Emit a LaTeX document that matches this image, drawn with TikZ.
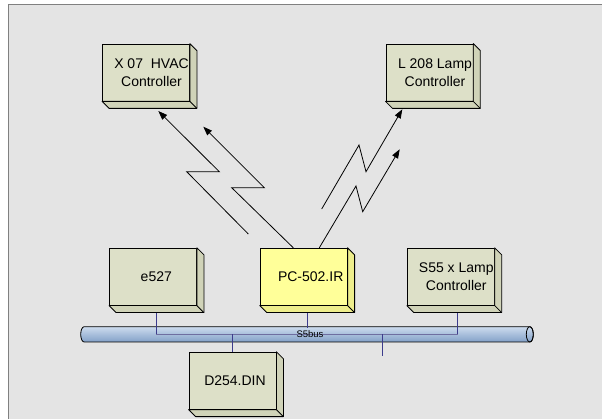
\documentclass[tikz,border=0pt]{standalone}
\usepackage{fontspec}
\setmainfont{Liberation Sans}
\usetikzlibrary{arrows.meta,calc}
\definecolor{bg}{RGB}{228,228,228}
\definecolor{framegray}{RGB}{128,128,128}
\definecolor{olive}{RGB}{221,224,200}
\definecolor{oliveside}{RGB}{208,211,184}
\definecolor{yel}{RGB}{255,255,153}
\definecolor{yelside}{RGB}{238,238,140}
\definecolor{busline}{RGB}{60,60,140}
\definecolor{bushline}{RGB}{110,110,160}
\definecolor{bustop}{RGB}{205,220,238}
\definecolor{busbot}{RGB}{130,160,200}
\tikzset{
  box/.style={draw=black, line width=0.8pt, fill=olive, minimum width=87pt, minimum height=57pt, inner sep=0pt},
  boxtext/.style={font=\fontsize{14}{18}\selectfont, align=center, inner sep=0pt},
  bolt/.style={line width=0.8pt, line join=miter, -{Triangle[length=9pt,width=6.5pt]}},
  drop/.style={draw=busline, line width=0.8pt},
}
\newcommand{\sidefaces}[2]{%
  \filldraw[fill=#2, draw=black, line width=0.8pt, line join=round]
    (#1.north east) -- ++(7,7) -- ($(#1.south east)+(7,7)$) -- ($(#1.south west)+(7,7)$)
    -- (#1.south west) -- (#1.south east) -- cycle;
  \draw[line width=0.8pt] (#1.south east) -- ++(7,7);
}
\begin{document}
\begin{tikzpicture}[x=1pt,y=-1pt]
\useasboundingbox (0,0) rectangle (602,419);
\fill[white] (0,0) rectangle (602,419);
\begin{scope}
  \clip (0,0) rectangle (602,419);
  \filldraw[fill=bg, draw=framegray, line width=1.2pt] (8.8,4.8) rectangle (640,450);
\end{scope}

% boxes
\node[box, label={[boxtext,xshift=5.5pt]center:X 07\ \ HVAC\\Controller}] (hvac) at (146,72.5) {};
\sidefaces{hvac}{oliveside}
\node[box, label={[boxtext,xshift=5.6pt]center:L 208 Lamp\\Controller}] (l208) at (429.4,72.5) {};
\sidefaces{l208}{oliveside}
\node[box, label={[boxtext,xshift=3.3pt]center:e527}] (e527) at (153,276.7) {};
\sidefaces{e527}{oliveside}
\node[box, fill=yel, label={[boxtext,xshift=7pt]center:PC-502.IR}] (pc) at (303.7,276.7) {};
\sidefaces{pc}{yelside}
\node[box, label={[boxtext,xshift=5.5pt]center:S55 x Lamp\\Controller}] (s55) at (450.8,276.7) {};
\sidefaces{s55}{oliveside}
\node[box, label={[boxtext,xshift=2.5pt]center:D254.DIN}] (d254) at (232.5,380.7) {};
\sidefaces{d254}{oliveside}

% bus
\shadedraw[top color=bustop, bottom color=busbot, draw=black, line width=0.8pt]
  (84.2,326.7) -- (529.8,326.7) arc[start angle=-90,end angle=90,x radius=3.5,y radius=7.65]
  -- (84.2,342) arc[start angle=90,end angle=270,x radius=3.5,y radius=7.65] -- cycle;
\draw[line width=0.8pt] (529.8,334.35) ellipse[x radius=3.5,y radius=7.65];

% drops
\draw[draw=bushline, line width=0.8pt] ($(e527.south)+(3.7,7.5)$) -- ++(0,21) -| ($(s55.south)+(6.9,7.5)$);
\draw[drop] ($(e527.south)+(3.7,7.5)$) -- ++(0,21);
\draw[drop] ($(s55.south)+(6.9,7.5)$) -- ++(0,21);
\draw[drop] ($(pc.south)+(3.6,7.5)$) -- ++(0,14.5);
\draw[drop] (d254.north) -- ++(0,-17.5);
\coordinate (stubtop) at (382.3,334.4);
\coordinate (stubend) at (382.3,355.7);
\draw[drop] (stubtop) -- (stubend);
\node[font=\fontsize{9.5}{10}\selectfont, inner sep=0pt] (buslabel) at (310,333.8) {S5bus};

% wireless bolts
\coordinate (b1s) at (248.3,234);
\coordinate (b1t) at (158.3,111);
\draw[bolt] (b1s) -- (186.7,171.7) -- (219.3,171.7) -- (b1t);
\coordinate (b2t) at (203.3,126.7);
\draw[bolt] ($(pc.north)+(-10.4,0)$) -- (231.7,187.7) -- (264.3,187.7) -- (b2t);
\coordinate (b3s) at (321.7,209);
\coordinate (b3t) at (402.3,109.3);
\draw[bolt] (b3s) -- (359,145) -- (366,171.7) -- (b3t);
\coordinate (b4t) at (399.7,149.3);
\draw[bolt] ($(pc.north)+(15.6,0)$) -- (356,186) -- (362.7,211.7) -- (b4t);
\end{tikzpicture}
\end{document}
